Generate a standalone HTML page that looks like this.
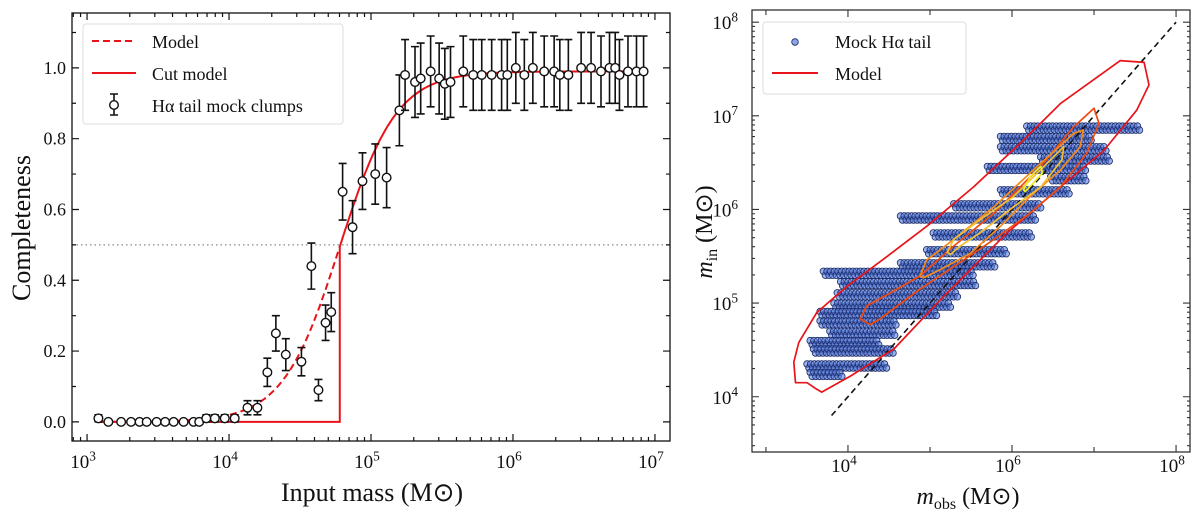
<!DOCTYPE html>
<html><head><meta charset="utf-8"><style>
html,body{margin:0;padding:0;background:#fff;}
svg text{font-family:"Liberation Serif",serif;fill:#111;}
</style></head><body>
<svg id="fig" width="1200" height="513" viewBox="0 0 1200 513" xmlns="http://www.w3.org/2000/svg">
<g id="left"></g>
<g id="right"></g>
</svg>
<script>
// ---- Left panel data ----
const massLog = [3.08,3.15,3.24,3.31,3.37,3.42,3.49,3.55,3.61,3.68,3.75,3.79,3.84,3.90,3.97,4.04,4.13,4.20,4.27,4.33,4.40,4.51,4.58,4.63,4.68,4.72,4.80,4.87,4.94,5.03,5.11,
  5.20,5.24,5.31,5.35,5.42,5.48,5.52,5.56,5.65,5.72,5.78,5.85,5.92,5.96,6.02,6.08,6.14,6.22,6.29,6.33,6.39,6.48,6.55,6.62,6.68,6.72,6.75,6.81,6.87,6.92];
const compl = [0.01,0,0,0,0,0,0,0,0,0,0,0,0.01,0.01,0.01,0.01,0.04,0.04,0.14,0.25,0.19,0.17,0.44,0.09,0.28,0.31,0.65,0.55,0.68,0.70,0.69,
  0.88,0.98,0.96,0.97,0.99,0.97,0.955,0.96,0.99,0.98,0.98,0.98,0.98,0.98,1.0,0.98,1.0,0.99,0.99,0.98,0.98,1.0,1.0,0.99,1.0,1.0,0.98,0.99,0.99,0.99];
const complErr = [0.01,0,0,0,0,0,0,0,0,0,0,0,0.01,0.01,0.01,0.01,0.02,0.02,0.04,0.05,0.045,0.04,0.065,0.03,0.05,0.055,0.08,0.075,0.08,0.085,0.085,
  0.1,0.1,0.1,0.1,0.1,0.1,0.1,0.1,0.1,0.1,0.1,0.1,0.1,0.1,0.1,0.1,0.1,0.1,0.1,0.1,0.1,0.1,0.1,0.1,0.1,0.1,0.1,0.1,0.1,0.1];
const xTicksL = [3,4,5,6,7];
const yTicksL = [0,0.2,0.4,0.6,0.8,1.0];
const modelMid = 4.78, modelWidth = 0.2, modelMax = 0.99;

// ---- Right panel data ----
// horizontal streaks: m_in (log), m_obs range (log)
const streakIn  = [6.89,6.78,6.67,6.56,6.46,6.35,6.21,6.06,5.93,5.75,5.57,5.43,5.34,5.23,5.11,5.00,4.91,4.81,4.70,4.60,4.51,4.35,4.26];
const streakLo  = [6.18,5.86,5.86,6.35,5.70,6.47,5.86,5.29,4.64,5.04,4.96,4.64,3.70,3.91,3.87,3.83,3.66,3.66,3.78,3.54,3.58,3.50,3.54];
const streakHi  = [7.57,6.96,7.16,7.16,6.87,6.91,6.67,6.35,6.26,6.22,5.94,5.78,5.53,5.53,5.33,5.25,5.09,4.60,4.56,4.35,4.56,4.48,3.91];
const contour1 = [[3.36,4.15],[3.34,4.37],[3.40,4.58],[3.62,4.90],[3.99,5.18],[4.48,5.50],[4.96,5.82],[5.53,6.24],[6.14,6.74],[6.59,7.13],[7.32,7.59],[7.61,7.57],[7.67,7.33],[7.52,7.06],[7.12,6.63],[6.59,6.24],[5.94,5.75],[5.53,5.39],[5.13,5.04],[4.56,4.51],[4.03,4.22],[3.68,4.05],[3.62,4.08],[3.50,4.15]];
const contour2 = [[4.15,4.83],[4.23,4.97],[4.52,5.11],[4.88,5.29],[5.29,5.61],[5.78,5.96],[6.35,6.46],[6.75,6.88],[7.00,7.08],[7.06,6.92],[6.91,6.60],[6.59,6.24],[6.22,5.96],[5.78,5.68],[5.29,5.39],[4.88,5.15],[4.60,4.97],[4.39,4.83],[4.27,4.77]];
const contour3 = [[4.88,5.29],[4.96,5.46],[5.29,5.68],[5.78,6.03],[6.26,6.42],[6.75,6.81],[6.87,6.85],[6.83,6.67],[6.59,6.42],[6.22,6.14],[5.86,5.82],[5.49,5.53],[5.13,5.36],[4.92,5.27]];
const contour4 = [[5.21,5.54],[5.29,5.68],[5.61,5.89],[6.02,6.14],[6.47,6.53],[6.63,6.67],[6.61,6.53],[6.35,6.24],[6.02,6.03],[5.61,5.75],[5.37,5.61],[5.25,5.52]];
const contour5 = [[6.14,6.21],[6.22,6.35],[6.35,6.46],[6.37,6.39],[6.26,6.28],[6.16,6.19]];
const oneToOne = [3.8,8.0];
const xTicksR = [4,6,8];
const yTicksR = [4,5,6,7,8];

const NS='http://www.w3.org/2000/svg';
function mk(parent,tag,attrs,name){const e=document.createElementNS(NS,tag);for(const k in attrs)e.setAttribute(k,attrs[k]);
  
  
  parent.appendChild(e);return e;}
function sup(parent,x,y,base,exp,size,anchor,name){const t=mk(parent,'text',{x:x,y:y,'font-size':size,'text-anchor':anchor},name);
  t.innerHTML=base+'<tspan dy="-'+(size*0.4)+'" font-size="'+(size*0.7)+'">'+exp+'</tspan>';return t;}

// ===== LEFT =====
const L=document.getElementById('left');
const lx0=72,lx1=670,ly0=13,ly1=441;
const lxmin=2.894,lxmax=7.106,lymin=-0.054,lymax=1.155;
const sxL=v=>lx0+(v-lxmin)/(lxmax-lxmin)*(lx1-lx0);
const syL=v=>ly1-(v-lymin)/(lymax-lymin)*(ly1-ly0);
mk(L,'line',{x1:lx0,x2:lx1,y1:syL(0.5),y2:syL(0.5),stroke:'#888','stroke-width':1.3,'stroke-dasharray':'1.5,3'},'half-completeness-line');
// model curves
const model=v=>modelMax/(1+Math.exp(-(v-modelMid)/modelWidth));
let dM='',dC='';
for(let v=3.08;v<=6.925;v+=0.01){const p=sxL(v).toFixed(1)+','+syL(model(v)).toFixed(1);
  if(v<=modelMid) dM+=(dM?'L':'M')+p; else dC+=(dC?'L':'M')+p;}
dM+='L'+sxL(modelMid).toFixed(1)+','+syL(model(modelMid)).toFixed(1);
mk(L,'path',{d:dM,fill:'none',stroke:'#e8141a','stroke-width':2,'stroke-dasharray':'7,4'},'model-curve');
let dCut='M'+sxL(3.08)+','+syL(0)+'L'+sxL(modelMid)+','+syL(0)+'L'+sxL(modelMid)+','+syL(model(modelMid))+dC.replace(/^M/,'L');
mk(L,'path',{d:dCut,fill:'none',stroke:'#e8141a','stroke-width':2},'cut-model-curve');
// points
for(let i=0;i<massLog.length;i++){const x=sxL(massLog[i]),y=syL(compl[i]);
  if(complErr[i]>0){const yt=syL(compl[i]+complErr[i]),yb=syL(compl[i]-complErr[i]);
    mk(L,'path',{d:`M${x},${yt}L${x},${yb}M${x-4},${yt}L${x+4},${yt}M${x-4},${yb}L${x+4},${yb}`,stroke:'#111','stroke-width':1.6,fill:'none'},'error-bar');}
  mk(L,'circle',{cx:x,cy:y,r:4.3,fill:'#fff',stroke:'#111','stroke-width':1.4},'data-point');}
// frame & ticks
mk(L,'rect',{x:lx0,y:ly0,width:lx1-lx0,height:ly1-ly0,fill:'none',stroke:'#111','stroke-width':1.3},'axes-frame');
let tk='';
for(let d=2;d<=7;d++)for(let m=1;m<10;m++){const v=d+Math.log10(m);if(v<lxmin||v>lxmax)continue;const x=sxL(v),len=m==1?7:4;
  tk+=`M${x},${ly1}L${x},${ly1-len}M${x},${ly0}L${x},${ly0+len}`;}
for(let v=0;v<=1.1;v+=0.1){const y=syL(v),len=Math.round(v*10)%2==0?7:4;tk+=`M${lx0},${y}L${lx0+len},${y}M${lx1},${y}L${lx1-len},${y}`;}
mk(L,'path',{d:tk,stroke:'#111','stroke-width':1.2,fill:'none'},'axis-ticks');
xTicksL.forEach(v=>sup(L,sxL(v)-4,468,'10',v,19,'middle','x-tick-label'));
yTicksL.forEach(v=>{const t=mk(L,'text',{x:lx0-6,y:syL(v)+6,'font-size':18,'text-anchor':'end'},'y-tick-label');t.textContent=v.toFixed(1);});
const xl=mk(L,'text',{x:372,y:501,'font-size':26,'text-anchor':'middle'},'x-axis-title');xl.textContent='Input mass (M\u2299)';
const yl=mk(L,'text',{x:0,y:0,'font-size':26,'text-anchor':'middle',transform:'translate(30,228) rotate(-90)'},'y-axis-title');yl.textContent='Completeness';
// legend
mk(L,'rect',{x:83,y:24,width:260,height:100,rx:3,fill:'#fff','fill-opacity':0.85,stroke:'#ddd','stroke-width':1},'legend-box');
mk(L,'line',{x1:92,x2:136,y1:41,y2:41,stroke:'#e8141a','stroke-width':2,'stroke-dasharray':'7,4'},'legend-model-line');
mk(L,'line',{x1:92,x2:136,y1:73,y2:73,stroke:'#e8141a','stroke-width':2},'legend-cut-line');
mk(L,'path',{d:'M114,94L114,115M110,94L118,94M110,115L118,115',stroke:'#111','stroke-width':1.6,fill:'none'},'legend-errorbar');
mk(L,'circle',{cx:114,cy:105,r:4.3,fill:'#fff',stroke:'#111','stroke-width':1.4},'legend-marker');
[['Model',48],['Cut model',80],['H\u03b1 tail mock clumps',112]].forEach(([s,y])=>{const t=mk(L,'text',{x:152,y:y,'font-size':18},'legend-label');t.textContent=s;});

// ===== RIGHT =====
const R=document.getElementById('right');
const rx0=752,rx1=1190,ry0=10,ry1=452;
const rxmin=2.83,rxmax=8.17,rymin=3.41,rymax=8.13;
const sxR=v=>rx0+(v-rxmin)/(rxmax-rxmin)*(rx1-rx0);
const syR=v=>ry1-(v-rymin)/(rymax-rymin)*(ry1-ry0);
const clip=mk(R,'clipPath',{id:'rclip'},'clip');mk(clip,'rect',{x:rx0,y:ry0,width:rx1-rx0,height:ry1-ry0},'clip-rect');
const pts=mk(R,'g',{'clip-path':'url(#rclip)'},'scatter-points');
for(let i=0;i<streakIn.length;i++){for(let off=0;off<=0.0001;off+=1){}
  for(let v=streakLo[i];v<=streakHi[i]+1e-6;v+=0.045){
    mk(pts,'circle',{cx:sxR(v).toFixed(1),cy:syR(streakIn[i]).toFixed(1),r:3.3,fill:'#5a7ee0','fill-opacity':0.6,stroke:'#1a2a66','stroke-width':0.8},'scatter-point');
    mk(pts,'circle',{cx:(sxR(v)+2).toFixed(1),cy:(syR(streakIn[i])+4).toFixed(1),r:3.3,fill:'#5a7ee0','fill-opacity':0.6,stroke:'#1a2a66','stroke-width':0.8},'scatter-point');
  }}
mk(R,'line',{x1:sxR(oneToOne[0]),y1:syR(oneToOne[0]),x2:sxR(oneToOne[1]),y2:syR(oneToOne[1]),stroke:'#111','stroke-width':1.6,'stroke-dasharray':'6,4'},'one-to-one-line');
[[contour1,'#e8141a'],[contour2,'#f04a10'],[contour3,'#f58a1a'],[contour4,'#f5c030'],[contour5,'#f0ee20']].forEach(([c,col],k)=>{
  const d='M'+c.map(p=>sxR(p[0]).toFixed(1)+','+syR(p[1]).toFixed(1)).join('L')+'Z';
  mk(R,'path',{d:d,fill:'none',stroke:col,'stroke-width':1.7,'stroke-linejoin':'round'},'model-contour-'+(k+1));});
mk(R,'rect',{x:rx0,y:ry0,width:rx1-rx0,height:ry1-ry0,fill:'none',stroke:'#333','stroke-width':1.3},'axes-frame');
let tr='';
for(let d=2;d<=8;d++)for(let m=1;m<10;m++){const v=d+Math.log10(m);
  if(v>=rxmin&&v<=rxmax){const x=sxR(v),len=m==1?(d%2==0?7:5):0;if(len)tr+=`M${x},${ry1}L${x},${ry1-len}M${x},${ry0}L${x},${ry0+len}`;}
  if(v>=rymin&&v<=rymax){const y=syR(v),len=m==1?7:3;tr+=`M${rx0},${y}L${rx0+len},${y}M${rx1},${y}L${rx1-len},${y}`;}}
mk(R,'path',{d:tr,stroke:'#333','stroke-width':1.1,fill:'none'},'axis-ticks');
xTicksR.forEach(v=>sup(R,sxR(v)-4,472,'10',v,19,'middle','x-tick-label'));
yTicksR.forEach(v=>sup(R,rx0-14,syR(v)+7,'10',v,19,'end','y-tick-label'));
const rxl=mk(R,'text',{x:968,y:504,'font-size':24,'text-anchor':'middle'},'x-axis-title');
rxl.innerHTML='<tspan font-style="italic">m</tspan><tspan font-size="16" dy="5">obs</tspan><tspan dy="-5"> (M\u2299)</tspan>';
const ryl=mk(R,'text',{x:0,y:0,'font-size':24,'text-anchor':'middle',transform:'translate(712,232) rotate(-90)'},'y-axis-title');
ryl.innerHTML='<tspan font-style="italic">m</tspan><tspan font-size="16" dy="5">in</tspan><tspan dy="-5"> (M\u2299)</tspan>';
mk(R,'rect',{x:763,y:22,width:203,height:72,rx:3,fill:'#fff','fill-opacity':0.85,stroke:'#ddd','stroke-width':1},'legend-box');
mk(R,'circle',{cx:795,cy:42,r:3.3,fill:'#5a7ee0','fill-opacity':0.7,stroke:'#1a2a66','stroke-width':0.8},'legend-marker');
mk(R,'line',{x1:772,x2:818,y1:73,y2:73,stroke:'#e8141a','stroke-width':2},'legend-model-line');
[['Mock H\u03b1 tail',48],['Model',80]].forEach(([s,y])=>{const t=mk(R,'text',{x:835,y:y,'font-size':18},'legend-label');t.textContent=s;});
</script>
</body></html>
